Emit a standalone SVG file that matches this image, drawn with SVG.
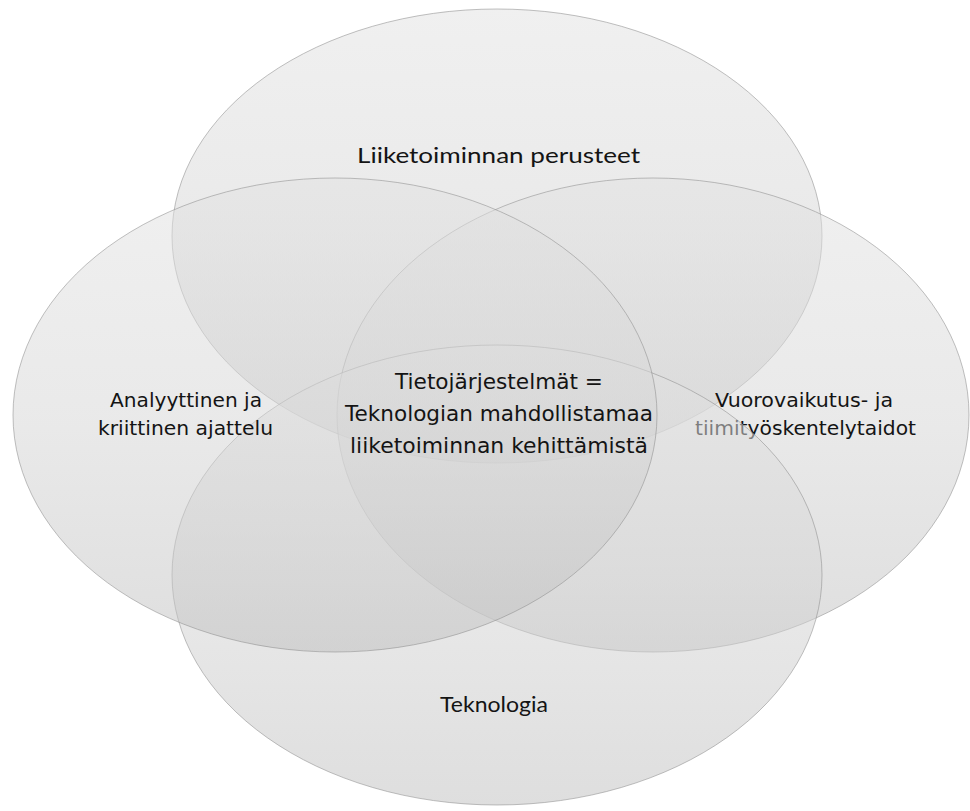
<svg xmlns="http://www.w3.org/2000/svg" width="970" height="811" viewBox="0 0 970 811">
<defs>
<linearGradient id="g" x1="0" y1="0" x2="0" y2="1">
<stop offset="0" stop-color="#e2e2e2"/>
<stop offset="0.5" stop-color="#d6d6d6"/>
<stop offset="1" stop-color="#c0c0c0"/>
</linearGradient>
</defs>
<style>
.e{fill:url(#g);fill-opacity:0.52;stroke:#8c8c8c;stroke-opacity:0.55;stroke-width:1}
.t{font-family:"Lato","Liberation Sans",sans-serif;font-size:22px;fill:#141414}
.s{font-family:"DejaVu Sans","Liberation Sans",sans-serif;font-size:20px;fill:#141414}
.c{font-family:"DejaVu Sans","Liberation Sans",sans-serif;font-size:22px;fill:#141414}
</style>
<rect width="970" height="811" fill="#ffffff"/>
<g id="top">
<ellipse class="e" cx="497" cy="236" rx="325" ry="227"/>
<text class="t" x="357" y="163" textLength="283" lengthAdjust="spacingAndGlyphs">Liiketoiminnan perusteet</text>
</g>
<g id="right">
<ellipse class="e" cx="653" cy="415" rx="316" ry="237"/>
<text class="s" x="715" y="407" textLength="178" lengthAdjust="spacingAndGlyphs">Vuorovaikutus- ja</text>
<text class="s" x="695" y="435" textLength="221" lengthAdjust="spacingAndGlyphs">tiimityöskentelytaidot</text>
</g>
<g id="bottom">
<ellipse class="e" cx="497" cy="575" rx="325" ry="230"/>
<text class="t" x="440" y="712" textLength="108" lengthAdjust="spacingAndGlyphs">Teknologia</text>
</g>
<g id="left">
<ellipse class="e" cx="335" cy="415" rx="322" ry="237"/>
<text class="s" x="110" y="407" textLength="152" lengthAdjust="spacingAndGlyphs">Analyyttinen ja</text>
<text class="s" x="98" y="435" textLength="175" lengthAdjust="spacingAndGlyphs">kriittinen ajattelu</text>
</g>
<g id="center">
<text class="c" x="395" y="389" textLength="208" lengthAdjust="spacingAndGlyphs">Tietojärjestelmät =</text>
<text class="c" x="345" y="421" textLength="308" lengthAdjust="spacingAndGlyphs">Teknologian mahdollistamaa</text>
<text class="c" x="350" y="453" textLength="298" lengthAdjust="spacingAndGlyphs">liiketoiminnan kehittämistä</text>
</g>
<g id="connectors"/>
</svg>
